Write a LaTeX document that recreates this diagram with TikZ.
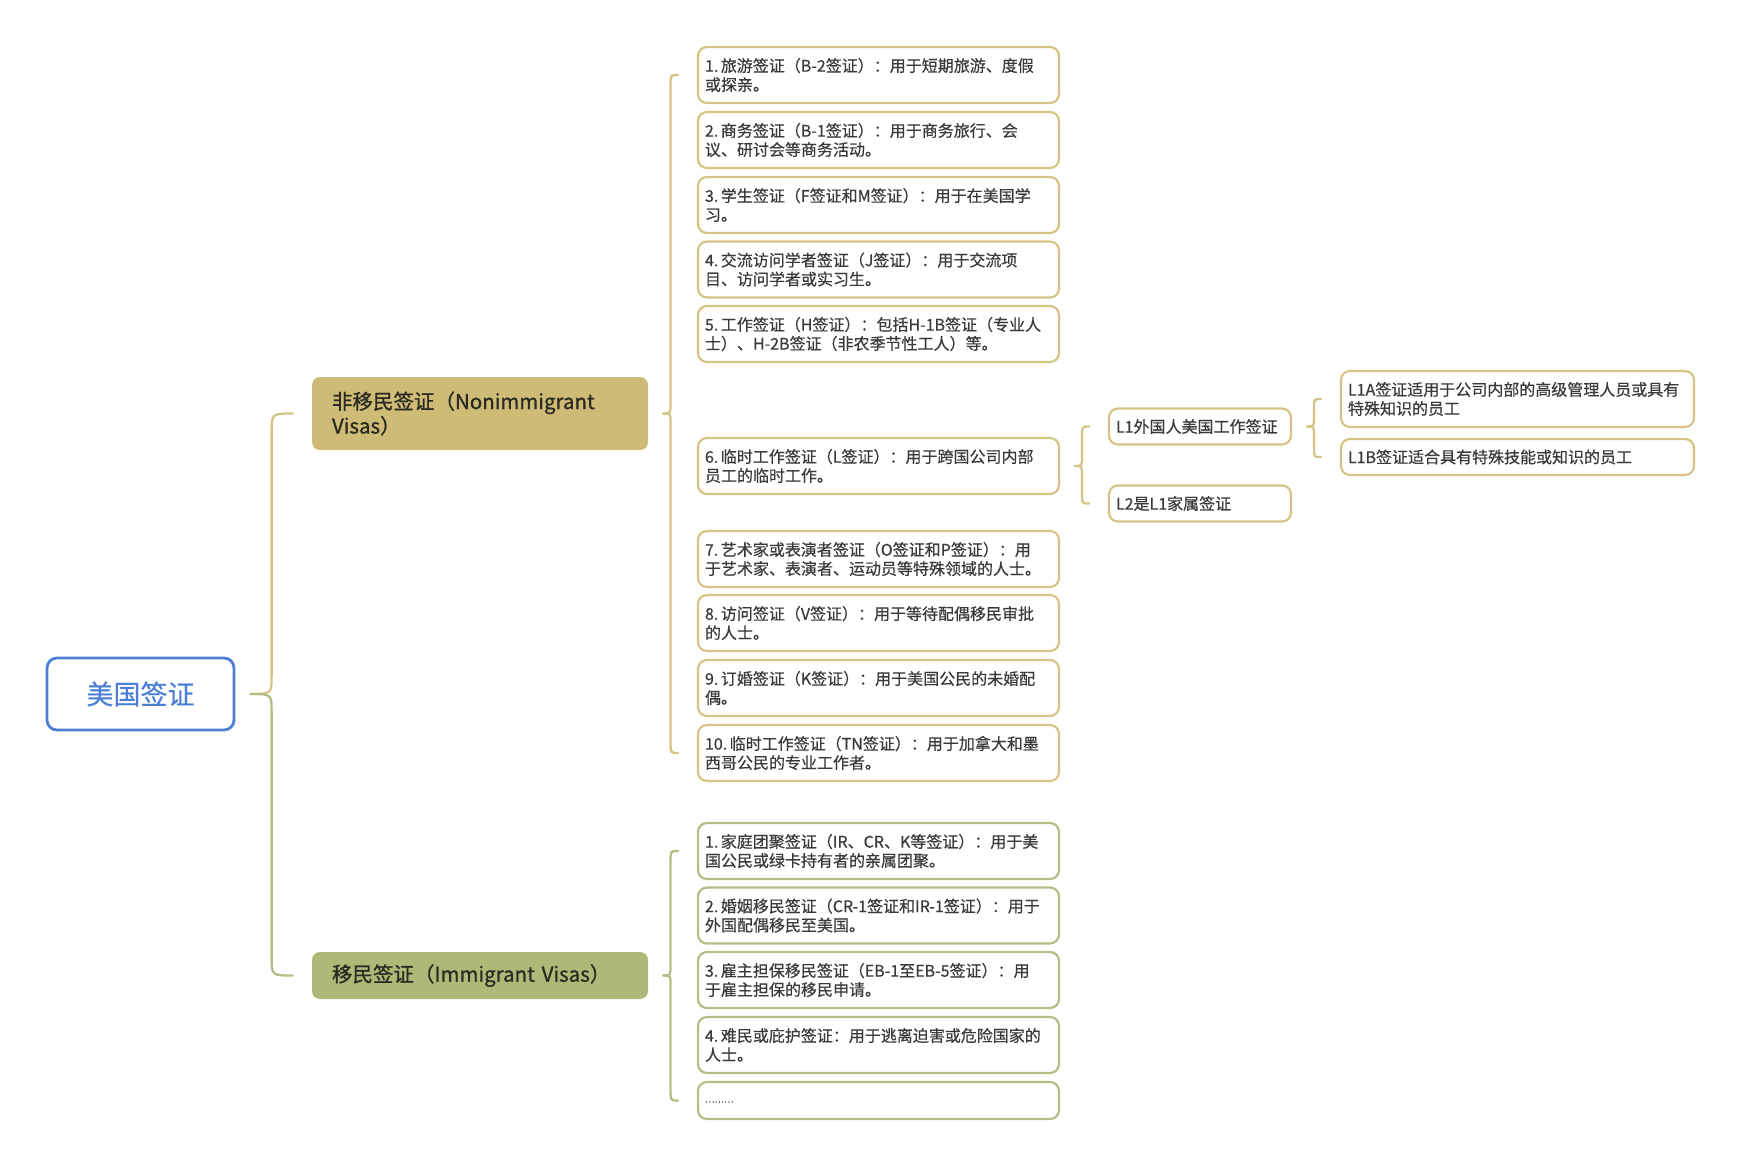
\documentclass[tikz,border=0pt]{standalone}
\usepackage{fontspec}
\setmainfont{Noto Sans CJK SC}
\newfontfamily\leaffont{Noto Sans CJK SC}[FakeBold=0.45]
\newfontfamily\mainfont{Noto Sans CJK SC}[FakeBold=0.9]
\usetikzlibrary{calc}
\definecolor{goldfill}{HTML}{CDBB76}
\definecolor{greenfill}{HTML}{B0B878}
\definecolor{goldline}{HTML}{D5C585}
\definecolor{greenline}{HTML}{B3BE86}
\definecolor{rootblue}{HTML}{4D7ED6}
\definecolor{txt}{HTML}{3A3A3A}
\definecolor{maintxt}{HTML}{2A2A22}
\newcommand\mmUp[4]{%
  \draw[#1] let \p1=([xshift=15pt]#2.east), \p2=([xshift=-19pt]#3.west), \p3=($(\p1)!0.5!(\p2)$) in
    (\p1) .. controls (\x3,\y1) .. (\x3,\y1+#4) -- (\x3,\y2-#4) .. controls (\x3,\y2) .. (\p2);}
\newcommand\mmDown[4]{%
  \draw[#1] let \p1=([xshift=15pt]#2.east), \p2=([xshift=-19pt]#3.west), \p3=($(\p1)!0.5!(\p2)$) in
    (\p1) .. controls (\x3,\y1) .. (\x3,\y1-#4) -- (\x3,\y2+#4) .. controls (\x3,\y2) .. (\p2);}
\newcommand\nb{\kern2.5pt}
\begin{document}
\begin{tikzpicture}[x=1pt,y=1pt,
  leafbox/.style={draw, rounded corners=9pt, line width=2.2pt, inner xsep=7pt, inner ysep=0pt,
    align=left, text=txt, font=\leaffont\fontsize{16}{19}\selectfont, minimum height=56pt, fill=white},
  nbox/.style={leafbox, draw=goldline, text width=347pt},
  ibox/.style={leafbox, draw=greenline, text width=347pt},
  lbox/.style={leafbox, draw=goldline, text width=168pt, minimum height=36pt},
  labox/.style={leafbox, draw=goldline, text width=339pt},
  mainbox/.style={rounded corners=8pt, inner xsep=20pt, inner ysep=0pt, align=left,
    text=maintxt, font=\mainfont\fontsize{20.5}{24.5}\selectfont, text width=296pt},
  goldbrace/.style={draw=goldline, line width=2.3pt, line cap=round},
  greenbrace/.style={draw=greenline, line width=2.3pt, line cap=round}]
\useasboundingbox (0,0) rectangle (1742,-1165);
% root
\node[draw=rootblue, line width=2.8pt, rounded corners=10pt, minimum width=187pt, minimum height=72pt,
  text=rootblue, font=\leaffont\fontsize{27}{30}\selectfont] (root) at (140.5,-694) {美国签证};
% main branches
\node[mainbox, fill=goldfill, minimum height=73pt] (non) at (480,-413.5) {非移民签证（Nonimmigrant\\Visas）};
\node[mainbox, fill=greenfill, minimum height=47pt] (imm) at (480,-975.5) {移民签证（Immigrant Visas）};
% nonimmigrant leaves
\node[nbox] (n1) at (878.5,-75) {1.\nb 旅游签证（B-2签证）：用于短期旅游、度假\\或探亲。};
\node[nbox] (n2) at (878.5,-140) {2.\nb 商务签证（B-1签证）：用于商务旅行、会\\议、研讨会等商务活动。};
\node[nbox] (n3) at (878.5,-205) {3.\nb 学生签证（F签证和M签证）：用于在美国学\\习。};
\node[nbox] (n4) at (878.5,-269.5) {4.\nb 交流访问学者签证（J签证）：用于交流项\\目、访问学者或实习生。};
\node[nbox] (n5) at (878.5,-334) {5.\nb 工作签证（H签证）：包括H-1B签证（专业人\\士）、H-2B签证（非农季节性工人）等。};
\node[nbox] (n6) at (878.5,-466) {6.\nb 临时工作签证（L签证）：用于跨国公司内部\\员工的临时工作。};
\node[nbox] (n7) at (878.5,-559) {7.\nb 艺术家或表演者签证（O签证和P签证）：用\\于艺术家、表演者、运动员等特殊领域的人士。};
\node[nbox] (n8) at (878.5,-623) {8.\nb 访问签证（V签证）：用于等待配偶移民审批\\的人士。};
\node[nbox] (n9) at (878.5,-688) {9.\nb 订婚签证（K签证）：用于美国公民的未婚配\\偶。};
\node[nbox] (n10) at (878.5,-753) {10.\nb 临时工作签证（TN签证）：用于加拿大和墨\\西哥公民的专业工作者。};
% immigrant leaves
\node[ibox] (i1) at (878.5,-851) {1.\nb 家庭团聚签证（IR、CR、K等签证）：用于美\\国公民或绿卡持有者的亲属团聚。};
\node[ibox] (i2) at (878.5,-915.5) {2.\nb 婚姻移民签证（CR-1签证和IR-1签证）：用于\\外国配偶移民至美国。};
\node[ibox] (i3) at (878.5,-980) {3.\nb 雇主担保移民签证（EB-1至EB-5签证）：用\\于雇主担保的移民申请。};
\node[ibox] (i4) at (878.5,-1045) {4.\nb 难民或庇护签证：用于逃离迫害或危险国家的\\人士。};
\node[ibox, minimum height=37pt] (i5) at (878.5,-1100.5) {\raisebox{-4pt}{\fontsize{9}{10}\selectfont ………}};
% L visa sub-nodes
\node[lbox] (l1) at (1200,-426.5) {L1外国人美国工作签证};
\node[lbox] (l2) at (1200,-503.5) {L2是L1家属签证};
\node[labox] (l1a) at (1517.5,-399) {L1A签证适用于公司内部的高级管理人员或具有\\特殊知识的员工};
\node[labox, minimum height=36pt] (l1b) at (1517.5,-457) {L1B签证适合具有特殊技能或知识的员工};
% connectors (braces)
\mmUp{goldbrace}{root}{non}{19pt}
\mmDown{greenbrace}{root}{imm}{19pt}
\mmUp{goldbrace}{non}{n1}{10pt}
\mmDown{goldbrace}{non}{n10}{10pt}
\mmUp{greenbrace}{imm}{i1}{10pt}
\mmDown{greenbrace}{imm}{i5}{10pt}
\mmUp{goldbrace}{n6}{l1}{10pt}
\mmDown{goldbrace}{n6}{l2}{10pt}
\mmUp{goldbrace}{l1}{l1a}{9pt}
\mmDown{goldbrace}{l1}{l1b}{9pt}
\end{tikzpicture}
\end{document}
